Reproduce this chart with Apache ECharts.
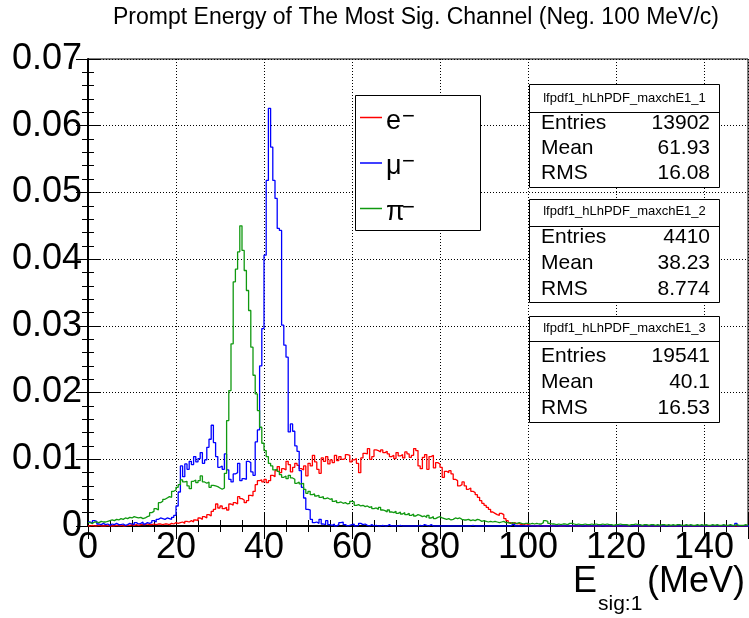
<!DOCTYPE html>
<html><head><meta charset="utf-8">
<script src="https://cdn.jsdelivr.net/npm/echarts@6/dist/echarts.min.js"></script>
<style>html,body{margin:0;padding:0;background:#fff}#c{width:749px;height:618px}</style>
</head><body><div id="c"></div>
<script>
// ---------------- data ----------------
const binWidth = 0.5; // MeV per histogram bin, first bin starts at 0
const xTickLabels = ['0','20','40','60','80','100','120','140'];
const yTickLabels = ['0','0.01','0.02','0.03','0.04','0.05','0.06','0.07'];
const seriesNames = ['e', 'μ', 'π'];

const electron = [
0,0.0001,0,0,0.0001,0,0,0,0.0001,0,0,0,0.0001,0,0.0001,0,0,0.0001,0.0001,0.0002,
0.0001,0.0002,0.0001,0.0002,0.0002,0.0002,0.0003,0.0002,0.0002,0.0003,0.0002,0.0003,0.0003,0.0002,
0.0003,0.0003,0.0002,0.0004,0.0003,0.0005,0.0004,0.0005,0.0006,0.0004,0.0007,0.0006,0.0008,0.0006,0.0009,0.0008,
0.0012,0.0010,0.0014,0.0012,0.0017,0.0015,0.0022,0.0025,0.0033,0.0027,
0.0030,0.0026,0.0028,0.0024,0.0033,0.0031,0.0035,0.0033,0.0044,0.0041,
0.0039,0.0035,0.0038,0.0046,0.0045,0.0052,0.0062,0.0068,0.0069,0.0066,
0.0070,0.0065,0.0068,0.0076,0.0074,0.0083,0.0089,0.0080,0.0086,0.0084,
0.0097,0.0092,0.0081,0.0088,0.0094,0.0091,0.0086,0.0084,0.0090,0.0075,
0.0094,0.0090,0.0106,0.0096,0.0085,0.0079,0.0102,0.0097,0.0104,0.0093,
0.0099,0.0095,0.0106,0.0098,0.0104,0.0100,0.0101,0.0107,0.0106,0.0096,
0.0099,0.0101,0.0094,0.0080,0.0102,0.0109,0.0108,0.0116,0.0100,0.0104,
0.0114,0.0113,0.0111,0.0114,0.0110,0.0112,0.0108,0.0104,0.0106,0.0101,
0.0110,0.0105,0.0107,0.0102,0.0111,0.0108,0.0103,0.0106,0.0116,0.0113,
0.0090,0.0086,0.0103,0.0107,0.0085,0.0104,0.0106,0.0087,0.0095,0.0093,
0.0088,0.0073,0.0082,0.0080,0.0083,0.0078,0.0070,0.0068,0.0060,0.0062,
0.0066,0.0060,0.0055,0.0057,0.0052,0.0050,0.0047,0.0043,0.0038,0.0034,
0.0031,0.0028,0.0025,0.0021,0.0019,0.0017,0.0016,0.0019,0.0017,0.0011,
0.0008,0.0005,0.0004,0.0005,0.0003,0.0004,0.0002,0.0003,0.0001,0.0002,
0.0001,0,0.0001,0,0,0.0001,0,0,0,0.0001,
0,0,0.0001,0,0,0,0,0.0001,0,0,
0,0,0,0,0.0001,0,0,0,0,0,
0,0,0,0.0001,0,0,0,0,0,0,
0,0,0,0,0,0,0.0001,0,0,0,
0,0,0,0,0,0,0,0,0,0,
0,0,0.0001,0,0,0,0,0,0,0,
0,0,0,0,0,0,0,0,0,0,
0,0,0,0,0,0,0,0,0,0,
0,0,0,0,0,0,0,0,0,0
];

const muon = [
0.0006,0.0004,0.0008,0.0007,0.0003,0.0002,0.0004,0.0002,0.0003,0.0001,0.0003,0.0002,0.0004,0.0002,
0.0002,0.0003,0.0001,0.0002,0.0004,0.0003,0.0002,0.0005,0.0003,0.0004,0.0006,0.0003,0.0005,0.0004,
0.0005,0.0008,0.0006,0.0010,0.0012,0.0011,0.0010,0.0012,0.0011,0.0010,0.0013,0.0016,
0.0030,0.0051,0.0090,0.0074,0.0093,0.0085,0.0097,0.0092,0.0104,0.0096,
0.0101,0.0110,0.0094,0.0099,0.0118,0.0130,0.0151,0.0125,0.0104,0.0088,
0.0090,0.0085,0.0108,0.0084,0.0070,0.0066,0.0078,0.0080,0.0094,0.0068,
0.0071,0.0070,0.0097,0.0095,0.0081,0.0076,0.0126,0.0144,0.0240,0.0296,
0.0406,0.0518,0.0626,0.0568,0.0518,0.0491,0.0446,0.0443,0.0301,0.0271,
0.0253,0.0141,0.0153,0.0142,0.0120,0.0112,0.0083,0.0058,0.0042,0.0025,
0.0024,0.0010,0.0005,0.0006,0.0004,0.0010,0.0003,0.0002,0.0008,0.0002,
0.0001,0.0003,0,0.0002,0.0005,0.0006,0.0002,0,0.0001,0.0002,
0.0003,0,0.0001,0.0004,0.0002,0.0003,0.0001,0,0.0002,0,
0.0001,0,0,0.0001,0,0,0.0002,0,0,0,
0,0.0001,0,0,0,0,0,0,0,0,
0.0001,0,0.0002,0.0001,0,0.0002,0,0,0,0,
0,0,0,0,0,0,0,0,0,0,
0,0,0,0,0.0001,0,0,0,0,0,
0,0,0,0,0,0,0,0,0,0,
0,0,0.0002,0.0003,0,0,0,0,0,0,
0,0,0,0,0,0,0,0,0,0,
0,0,0,0,0,0,0,0,0,0,
0,0,0,0,0,0,0,0,0,0,
0,0,0,0,0,0,0,0,0,0,
0,0,0,0,0,0,0,0,0,0,
0,0,0,0,0,0,0,0,0,0,
0,0,0,0,0,0,0,0,0,0,
0,0,0,0,0,0,0,0,0,0,
0,0,0,0,0,0,0,0,0,0,
0,0,0,0,0.0004,0,0,0,0,0,
0,0,0,0,0,0,0,0,0,0
];

const pion = [
0.0005,0.0004,0.0006,0.0006,0.0005,0.0007,0.0006,0.0006,0.0007,0.0008,0.0009,0.0008,0.0010,0.0009,
0.0011,0.0010,0.0012,0.0011,0.0013,0.0012,0.0014,0.0013,0.0012,0.0013,0.0011,0.0012,0.0014,0.0015,
0.0020,0.0022,0.0026,0.0024,0.0035,0.0037,0.0040,0.0042,0.0044,0.0043,0.0052,0.0054,
0.0058,0.0062,0.0069,0.0066,0.0067,0.0060,0.0056,0.0067,0.0069,0.0065,
0.0068,0.0075,0.0066,0.0064,0.0066,0.0058,0.0061,0.0060,0.0059,0.0057,
0.0055,0.0057,0.0079,0.0158,0.0203,0.0273,0.0366,0.0385,0.0411,0.0450,
0.0413,0.0383,0.0353,0.0323,0.0268,0.0226,0.0198,0.0173,0.0148,0.0124,
0.0113,0.0104,0.0094,0.0090,0.0084,0.0085,0.0082,0.0077,0.0073,0.0075,
0.0071,0.0076,0.0072,0.0070,0.0064,0.0066,0.0063,0.0064,0.0055,0.0049,
0.0052,0.0047,0.0048,0.0045,0.0046,0.0043,0.0044,0.0041,0.0042,0.0040,
0.0041,0.0037,0.0038,0.0035,0.0036,0.0034,0.0035,0.0033,0.0034,0.0037,
0.0036,0.0031,0.0032,0.0030,0.0031,0.0029,0.0030,0.0028,0.0029,0.0026,
0.0027,0.0025,0.0028,0.0024,0.0023,0.0021,0.0024,0.0021,0.0020,0.0022,
0.0019,0.0021,0.0018,0.0020,0.0017,0.0019,0.0016,0.0018,0.0015,0.0017,
0.0016,0.0014,0.0015,0.0013,0.0016,0.0012,0.0014,0.0011,0.0013,0.0014,
0.0012,0.0011,0.0010,0.0011,0.0009,0.0010,0.0012,0.0011,0.0012,0.0010,
0.0009,0.0009,0.0010,0.0008,0.0009,0.0008,0.0010,0.0009,0.0007,0.0008,
0.0007,0.0006,0.0007,0.0006,0.0007,0.0006,0.0005,0.0006,0.0007,0.0005,
0.0005,0.0004,0.0005,0.0004,0.0004,0.0005,0.0004,0.0003,0.0004,0.0004,
0.0003,0.0004,0.0003,0.0004,0.0003,0.0003,0.0005,0.0008,0.0007,0.0004,
0.0003,0.0003,0.0002,0.0003,0.0002,0.0003,0.0003,0.0002,0.0004,0.0004,
0.0003,0.0002,0.0003,0.0002,0.0002,0.0003,0.0002,0.0002,0.0003,0.0002,
0.0003,0.0002,0.0002,0.0003,0.0002,0.0003,0.0002,0.0002,0.0001,0.0002,
0.0002,0.0003,0.0002,0.0002,0.0002,0.0001,0.0002,0.0002,0.0003,0.0002,
0.0002,0.0001,0.0002,0.0002,0.0001,0.0002,0.0002,0.0001,0.0002,0.0001,
0.0002,0.0002,0.0001,0.0002,0.0001,0.0002,0.0001,0.0002,0.0002,0.0001,
0.0001,0.0002,0.0001,0.0002,0.0001,0.0001,0.0002,0.0001,0.0002,0.0001,
0.0002,0.0001,0.0001,0.0002,0.0001,0.0002,0.0001,0.0001,0.0002,0.0001,
0.0001,0.0002,0.0001,0.0001,0.0002,0.0001,0.0001,0.0001,0.0002,0.0001
];

const statsTitles = ['lfpdf1_hLhPDF_maxchE1_1', 'lfpdf1_hLhPDF_maxchE1_2', 'lfpdf1_hLhPDF_maxchE1_3'];
const statsEntries = ['13902', '4410', '19541'];
const statsMean = ['61.93', '38.23', '40.1'];
const statsRMS = ['16.08', '8.774', '16.53'];

// ---------------- chart ----------------
const FONT = '"Liberation Sans", Arial, Helvetica, sans-serif';
const colors = ['#ff0000', '#0000ff', '#109910'];

function toSteps(vals) {
  const d = vals.map((v, i) => [i * binWidth, v]);
  d.push([vals.length * binWidth, vals[vals.length - 1]]);
  return d;
}

const chart = echarts.init(document.getElementById('c'), null, {renderer: 'canvas'});

const tickCommon = {
  axisLine: {show: true, lineStyle: {color: '#000', width: 1}},
  axisTick: {show: true, inside: true, length: 13, lineStyle: {color: '#000', width: 1}},
  minorTick: {show: true, length: 6, lineStyle: {color: '#000', width: 1}},
};

const graphics = [];
// title
graphics.push({type: 'text', x: 416, y: 18, z: 100,
  style: {text: 'Prompt Energy of The Most Sig. Channel (Neg. 100 MeV/c)', fontFamily: FONT, fontSize: 23, fill: '#000', align: 'center', verticalAlign: 'middle'}});
// x axis title
graphics.push({type: 'text', x: 573, y: 582, z: 100, style: {text: 'E', fontFamily: FONT, fontSize: 36, fill: '#000', align: 'left', verticalAlign: 'middle'}});
graphics.push({type: 'text', x: 598, y: 604, z: 100, style: {text: 'sig:1', fontFamily: FONT, fontSize: 21, fill: '#000', align: 'left', verticalAlign: 'middle'}});
graphics.push({type: 'text', x: 745, y: 582, z: 100, style: {text: '(MeV)', fontFamily: FONT, fontSize: 36, fill: '#000', align: 'right', verticalAlign: 'middle'}});

// legend box
graphics.push({type: 'rect', z: 100, shape: {x: 355.5, y: 95.5, width: 125, height: 135}, style: {fill: '#fff', stroke: '#000', lineWidth: 1}});
const legendRows = [117.5, 163, 208.5];
seriesNames.forEach((n, k) => {
  const yy = legendRows[k];
  graphics.push({type: 'line', z: 101, shape: {x1: 360, y1: yy, x2: 382, y2: yy}, style: {stroke: colors[k], lineWidth: 1.5}});
  graphics.push({type: 'text', z: 101, x: 386, y: yy + 4, style: {text: n, fontFamily: FONT, fontSize: 27, fill: '#000', align: 'left', verticalAlign: 'middle'}});
  graphics.push({type: 'text', z: 101, x: 402, y: yy - 1, style: {text: '−', fontFamily: FONT, fontSize: 22, fill: '#000', align: 'left', verticalAlign: 'middle'}});
});

// stats boxes
const statBoxes = [
  {top: 84, bottom: 186.5, div: 111.8, head: 98.2, rows: [123.5, 148.6, 173.7]},
  {top: 198.8, bottom: 301.6, div: 225.6, head: 211.2, rows: [237.3, 263.4, 289]},
  {top: 316, bottom: 421.5, div: 341, head: 328.5, rows: [356, 382, 408]}
];
statBoxes.forEach((b, k) => {
  const t = Math.round(b.top) + 0.5, bt = Math.round(b.bottom) + 0.5, dv = Math.round(b.div) + 0.5;
  graphics.push({type: 'rect', z: 100, shape: {x: 529.5, y: t, width: 190, height: bt - t}, style: {fill: '#fff', stroke: '#000', lineWidth: 1}});
  graphics.push({type: 'line', z: 101, shape: {x1: 529.5, y1: dv, x2: 719.5, y2: dv}, style: {stroke: '#000', lineWidth: 1}});
  graphics.push({type: 'text', z: 101, x: 624.5, y: b.head, style: {text: statsTitles[k], fontFamily: FONT, fontSize: 13, fill: '#000', align: 'center', verticalAlign: 'middle'}});
  const labels = ['Entries', 'Mean', 'RMS'];
  const vals = [statsEntries[k], statsMean[k], statsRMS[k]];
  labels.forEach((l, r) => {
    graphics.push({type: 'text', z: 101, x: 541, y: b.rows[r], style: {text: l, fontFamily: FONT, fontSize: 21, fill: '#000', align: 'left', verticalAlign: 'middle'}});
    graphics.push({type: 'text', z: 101, x: 710, y: b.rows[r], style: {text: vals[r], fontFamily: FONT, fontSize: 21, fill: '#000', align: 'right', verticalAlign: 'middle'}});
  });
});

const option = {
  animation: false,
  backgroundColor: '#fff',
  grid: {left: 88, right: 1, top: 59, bottom: 92, containLabel: false, outerBoundsMode: 'none',
         show: true, borderColor: '#000', borderWidth: 1, backgroundColor: '#fff'},
  xAxis: [
    Object.assign({}, tickCommon, {
      type: 'value', position: 'bottom', min: 0, max: 150, interval: 20,
      axisLine: {show: true, lineStyle: {color: '#000', width: 2}},
      minorTick: {show: true, splitNumber: 4, length: 6, lineStyle: {color: '#000', width: 1}},
      splitLine: {show: true, lineStyle: {color: '#000', width: 1, type: [1, 2]}},
      axisLabel: {show: true, fontFamily: FONT, fontSize: 36, color: '#000', margin: 4, showMaxLabel: false,
        formatter: v => { const i = Math.round(v / 20); return xTickLabels[i] !== undefined ? xTickLabels[i] : ''; }}
    }),
    Object.assign({}, tickCommon, {
      type: 'value', position: 'top', min: 0, max: 150, interval: 20,
      minorTick: {show: true, splitNumber: 4, length: 6, lineStyle: {color: '#000', width: 1}},
      splitLine: {show: false}, axisLabel: {show: false}
    })
  ],
  yAxis: [
    Object.assign({}, tickCommon, {
      type: 'value', position: 'left', min: 0, max: 0.07, interval: 0.01,
      axisLine: {show: true, lineStyle: {color: '#000', width: 2}},
      axisTick: {show: true, inside: true, length: 12, lineStyle: {color: '#000', width: 1}},
      minorTick: {show: true, splitNumber: 5, length: 6, lineStyle: {color: '#000', width: 1}},
      splitLine: {show: true, lineStyle: {color: '#000', width: 1, type: [1, 2]}},
      axisLabel: {show: true, fontFamily: FONT, fontSize: 36, color: '#000', margin: 6,
        formatter: v => { const i = Math.round(v / 0.01); return yTickLabels[i] !== undefined ? yTickLabels[i] : ''; }}
    }),
    Object.assign({}, tickCommon, {
      type: 'value', position: 'right', min: 0, max: 0.07, interval: 0.01,
      axisTick: {show: true, inside: true, length: 12, lineStyle: {color: '#000', width: 1}},
      minorTick: {show: true, splitNumber: 5, length: 6, lineStyle: {color: '#000', width: 1}},
      splitLine: {show: false}, axisLabel: {show: false}
    })
  ],
  series: [electron, muon, pion].map((vals, k) => ({
    name: seriesNames[k] + '⁻',
    type: 'line', step: 'end', xAxisIndex: 0, yAxisIndex: 0,
    data: toSteps(vals), symbol: 'none', clip: true,
    lineStyle: {color: colors[k], width: 1.3}, itemStyle: {color: colors[k]},
    z: 3
  })),
  graphic: graphics
};
chart.setOption(option);
</script>
</body></html>
